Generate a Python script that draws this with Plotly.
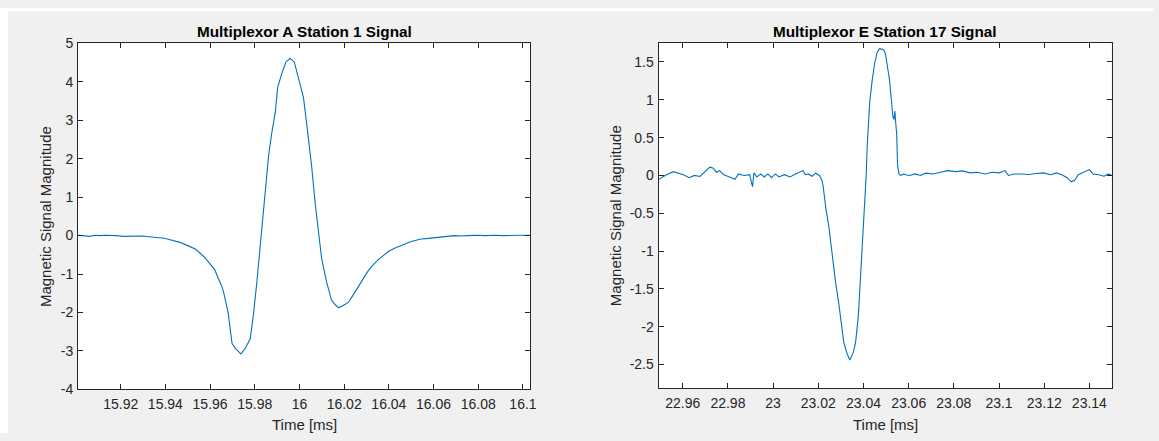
import plotly.graph_objects as go

W, H = 1159, 441

# ---------------- data: Multiplexor A Station 1 ----------------
time_a = [15.9009, 15.9035, 15.9061, 15.9085, 15.9105, 15.913, 15.915, 15.918, 15.9209, 15.9245,
          15.9298, 15.9328, 15.9350, 15.9372, 15.9395, 15.9417, 15.9461, 15.9498, 15.9536,
          15.9573, 15.9595, 15.9620, 15.9635, 15.9654, 15.9662, 15.9681, 15.9698, 15.9714,
          15.9738, 15.9758, 15.9780, 15.9795, 15.9810, 15.9825, 15.9840, 15.9854, 15.9862,
          15.9876, 15.9892, 15.9902, 15.9921, 15.9939, 15.9958, 15.9977, 15.9995, 16.0018,
          16.0032, 16.0054, 16.0070, 16.0084, 16.0099, 16.0121, 16.0143, 16.0160, 16.0176,
          16.0196, 16.0218, 16.0240, 16.0262, 16.0285, 16.0307, 16.0330, 16.0351, 16.0375,
          16.0396, 16.0425, 16.0455, 16.0480, 16.0500, 16.0522, 16.0544, 16.0568, 16.0589,
          16.0612, 16.0633, 16.0660, 16.0693, 16.0720, 16.0752, 16.0775, 16.0796, 16.0830,
          16.0870, 16.0910, 16.0950, 16.1000, 16.1033]
value_a = [0.01, 0.0, -0.02, 0.01, 0.0, 0.01, 0.01, 0.0, -0.02, -0.01,
           -0.01, -0.03, -0.04, -0.06, -0.07, -0.10, -0.17, -0.255, -0.355,
           -0.55, -0.71, -0.88, -1.09, -1.34, -1.51, -2.01, -2.80, -2.94,
           -3.08, -2.93, -2.68, -2.01, -1.17, -0.26, 0.55, 1.42, 2.09,
           2.67, 3.21, 3.84, 4.22, 4.51, 4.61, 4.51, 4.09, 3.59,
           2.92, 1.83, 0.85, 0.16, -0.59, -1.20, -1.67, -1.80, -1.88,
           -1.82, -1.74, -1.55, -1.34, -1.12, -0.92, -0.76, -0.63, -0.52,
           -0.42, -0.33, -0.255, -0.20, -0.155, -0.12, -0.09, -0.08, -0.07,
           -0.05, -0.04, -0.02, 0.0, -0.01, 0.0, 0.01, 0.01, 0.0,
           0.01, 0.0, 0.01, 0.01, 0.01]

# ---------------- data: Multiplexor E Station 17 ----------------
time_e = [22.9493, 22.9522, 22.9558, 22.9579, 22.9603, 22.9628, 22.9652, 22.9676, 22.9701,
          22.9720, 22.9733, 22.9750, 22.9763, 22.9782, 22.9807, 22.9831, 22.9847, 22.9872,
          22.9896, 22.9909, 22.9915, 22.9928, 22.9945, 22.9961, 22.9977, 22.9993, 23.0010,
          23.0026, 23.0050, 23.0075, 23.0099, 23.0115, 23.0132, 23.0143, 23.0156, 23.0172,
          23.0189, 23.0205, 23.0216, 23.0221, 23.0233, 23.0247, 23.0262, 23.0276, 23.0291,
          23.0302, 23.0313, 23.0328, 23.0340, 23.0355, 23.0365, 23.0377, 23.0387, 23.0397,
          23.0406, 23.0412, 23.0417, 23.0421, 23.0428, 23.0439, 23.0450, 23.0461, 23.0472,
          23.0490, 23.0497, 23.0505, 23.0515, 23.0524, 23.0530, 23.0535, 23.0539, 23.0542,
          23.0547, 23.0551, 23.0557, 23.0565, 23.0579, 23.0587, 23.0603, 23.0628, 23.0652,
          23.0676, 23.0709, 23.0741, 23.0774, 23.0807, 23.0839, 23.0872, 23.0904, 23.0937,
          23.0969, 23.1002, 23.1026, 23.1042, 23.1067, 23.1099, 23.1132, 23.1164, 23.1197,
          23.1229, 23.1254, 23.1278, 23.1302, 23.1319, 23.1335, 23.1351, 23.1376, 23.1400,
          23.1416, 23.1441, 23.1465, 23.1481, 23.1498]
value_e = [-0.055, 0.0, 0.05, 0.03, 0.01, -0.03, 0.0, -0.013, 0.064,
           0.11, 0.10, 0.043, 0.064, 0.01, -0.02, -0.05, 0.02, 0.0,
           0.01, -0.15, 0.034, -0.02, 0.02, -0.02, 0.02, -0.03, 0.02,
           -0.02, 0.01, -0.02, 0.02, 0.04, 0.064, 0.01, 0.02, -0.01,
           0.03, 0.0, -0.064, -0.13, -0.425, -0.68, -1.06, -1.40, -1.70,
           -1.95, -2.21, -2.36, -2.44, -2.34, -2.21, -1.87, -1.36, -0.81,
           -0.38, 0.0, 0.42, 0.68, 0.98, 1.27, 1.49, 1.63, 1.68,
           1.66, 1.61, 1.46, 1.27, 0.98, 0.78, 0.74, 0.85, 0.72,
           0.55, 0.13, 0.02, 0.0, 0.02, 0.01, 0.0, 0.02, 0.0,
           0.03, 0.02, 0.043, 0.064, 0.05, 0.06, 0.034, 0.043, 0.02,
           0.043, 0.034, 0.064, 0.0, 0.02, 0.02, 0.013, 0.026, 0.034,
           0.01, 0.034, 0.01, -0.03, -0.085, -0.064, 0.01, 0.043, 0.077,
           0.02, 0.01, -0.01, 0.017, 0.01]

# ---------------- ticks ----------------
xticks_a = [15.92, 15.94, 15.96, 15.98, 16.0, 16.02, 16.04, 16.06, 16.08, 16.1]
xlabels_a = ["15.92", "15.94", "15.96", "15.98", "16", "16.02", "16.04", "16.06", "16.08", "16.1"]
yticks_a = [-4, -3, -2, -1, 0, 1, 2, 3, 4, 5]
ylabels_a = ["-4", "-3", "-2", "-1", "0", "1", "2", "3", "4", "5"]
xticks_e = [22.96, 22.98, 23.0, 23.02, 23.04, 23.06, 23.08, 23.1, 23.12, 23.14]
xlabels_e = ["22.96", "22.98", "23", "23.02", "23.04", "23.06", "23.08", "23.1", "23.12", "23.14"]
yticks_e = [-2.5, -2, -1.5, -1, -0.5, 0, 0.5, 1, 1.5]
ylabels_e = ["-2.5", "-2", "-1.5", "-1", "-0.5", "0", "0.5", "1", "1.5"]

titles = ["Multiplexor A Station 1 Signal", "Multiplexor E Station 17 Signal"]
xlabel = "Time [ms]"
ylabel = "Magnetic Signal Magnitude"

LINE = "#0072BD"
AX = "#262626"
FONT = "Liberation Sans, Arial, Helvetica, sans-serif"

fig = go.Figure()
fig.add_trace(go.Scatter(x=time_a, y=value_a, mode="lines", line=dict(color=LINE, width=1.1),
                         xaxis="x", yaxis="y", showlegend=False))
fig.add_trace(go.Scatter(x=time_e, y=value_e, mode="lines", line=dict(color=LINE, width=1.1),
                         xaxis="x2", yaxis="y2", showlegend=False))

# pixel geometry of the two axes boxes
ax_a = dict(x0=78.4, x1=533.1, y0=36.7, y1=395.7)
ax_e = dict(x0=662.0, x1=1117.3, y0=36.0, y1=394.3)


def dom_x(b):
    return [b["x0"] / W, b["x1"] / W]


def dom_y(b):
    return [1 - b["y1"] / H, 1 - b["y0"] / H]


common = dict(showline=True, linecolor=AX, linewidth=1, mirror="allticks", ticks="inside",
              ticklen=5, tickcolor=AX, tickwidth=1, showgrid=False, zeroline=False,
              tickfont=dict(family=FONT, size=14, color=AX))

fig.update_layout(
    width=W, height=H,
    margin=dict(l=0, r=0, t=0, b=0),
    paper_bgcolor="#f0f0f0",
    plot_bgcolor="white",
    xaxis=dict(domain=dom_x(ax_a), range=[15.9009, 16.1033], tickvals=xticks_a, ticktext=xlabels_a,
               anchor="y", ticklabelstandoff=2, **common),
    yaxis=dict(domain=dom_y(ax_a), range=[-4, 5], tickvals=yticks_a, ticktext=ylabels_a,
               anchor="x", ticklabelstandoff=1, **common),
    xaxis2=dict(domain=dom_x(ax_e), range=[22.9493, 23.1498], tickvals=xticks_e, ticktext=xlabels_e,
                anchor="y2", ticklabelstandoff=2, **common),
    yaxis2=dict(domain=dom_y(ax_e), range=[-2.81, 1.755], tickvals=yticks_e, ticktext=ylabels_e,
                anchor="x2", ticklabelstandoff=1, **common),
)

shapes = [
    dict(type="rect", xref="paper", yref="paper", x0=0, x1=8 / W, y0=0, y1=1,
         fillcolor="white", line=dict(width=0), layer="below"),
    dict(type="rect", xref="paper", yref="paper", x0=0, x1=1, y0=1 - 3 / H, y1=1,
         fillcolor="white", line=dict(width=0), layer="below"),
]
fig.update_layout(shapes=shapes)

ann = []
for b, t, ylx in [(ax_a, titles[0], 46), (ax_e, titles[1], 619)]:
    cx = (b["x0"] + b["x1"]) / 2 / W
    ann.append(dict(text="<b>%s</b>" % t, x=cx, y=1 - 24 / H, xref="paper", yref="paper",
                    xanchor="center", yanchor="middle", showarrow=False,
                    font=dict(family=FONT, size=15.3, color="black")))
    ann.append(dict(text=xlabel, x=cx, y=1 - 432 / H, xref="paper", yref="paper",
                    xanchor="center", yanchor="middle", showarrow=False,
                    font=dict(family=FONT, size=15, color=AX)))
    ann.append(dict(text=ylabel, x=ylx / W, y=1 - ((b["y0"] + b["y1"]) / 2) / H, xref="paper",
                    yref="paper", xanchor="center", yanchor="middle", textangle=-90,
                    showarrow=False, font=dict(family=FONT, size=15, color=AX)))
fig.update_layout(annotations=ann)

fig.write_html("out.html")
